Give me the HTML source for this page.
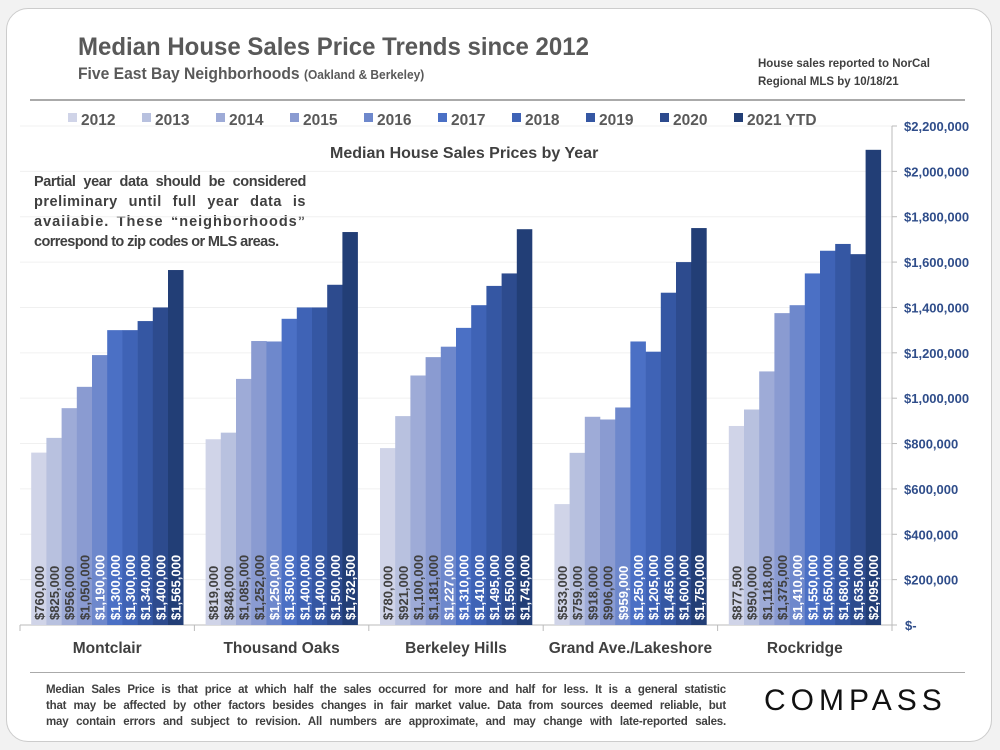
<!DOCTYPE html>
<html><head><meta charset="utf-8"><style>
body{margin:0;background:#f4f4f4;font-family:"Liberation Sans",sans-serif;}
#page{position:relative;width:1000px;height:750px;overflow:hidden;background:#f2f2f2;}
#card{position:absolute;left:6px;top:8px;width:984px;height:732px;background:#fff;border:1px solid #ccc;border-radius:22px;}
.t{position:absolute;white-space:nowrap;color:#595959;font-weight:bold;}
.j{display:block;text-align:justify;text-align-last:justify;white-space:nowrap;}
</style></head><body>
<div id="page">
<div id="card"></div>
<div class="t" style="left:78px;top:33px;font-size:25px;transform:scaleX(0.96);transform-origin:left">Median House Sales Price Trends since 2012</div>
<div class="t" style="left:78px;top:64px;font-size:17px;transform:scaleX(0.92);transform-origin:left">Five East Bay Neighborhoods <span style="font-size:13px">(Oakland &amp; Berkeley)</span></div>
<div class="t" style="left:758px;top:55px;font-size:11.5px;line-height:18px;color:#404040">House sales reported to NorCal<br>Regional MLS by 10/18/21</div>
<div style="position:absolute;left:30px;top:99px;width:935px;height:2px;background:#aaa"></div>
<div class="t" style="left:34px;top:172px;width:272px;font-size:14.5px;line-height:20px;color:#404040">
<span class="j" style="letter-spacing:-0.4px">Partial year data should be considered</span><span class="j" style="letter-spacing:0.5px">preliminary until full year data is</span><span class="j" style="letter-spacing:1px">available. These “neighborhoods”</span><span style="display:block;letter-spacing:-0.6px">correspond to zip codes or MLS areas.</span></div>
<div class="t" style="left:330px;top:145px;font-size:16px;color:#404040">Median House Sales Prices by Year</div>
<div style="position:absolute;left:30px;top:672px;width:935px;height:1px;background:#aaa"></div>
<div class="t" style="left:46px;top:682px;width:680px;font-size:11.5px;line-height:16px;color:#404040;letter-spacing:-0.2px">
<span class="j">Median Sales Price is that price at which half the sales occurred for more and half for less. It is a general statistic</span><span class="j">that may be affected by other factors besides changes in fair market value. Data from sources deemed reliable, but</span><span class="j">may contain errors and subject to revision. All numbers are approximate, and may change with late-reported sales.</span></div>
<div class="t" style="left:764px;top:684px;font-size:30px;color:#111;letter-spacing:5px;font-weight:normal">COMPASS</div>
<svg id="chart" width="1000" height="750" style="position:absolute;left:0;top:0"></svg>
</div>
<script>
const categories=["Montclair","Thousand Oaks","Berkeley Hills","Grand Ave./Lakeshore","Rockridge"];
const years=["2012","2013","2014","2015","2016","2017","2018","2019","2020","2021 YTD"];
const v2012=[760000,819000,780000,533000,877500];
const v2013=[825000,848000,921000,759000,950000];
const v2014=[956000,1085000,1100000,918000,1118000];
const v2015=[1050000,1252000,1181000,906000,1375000];
const v2016=[1190000,1250000,1227000,959000,1410000];
const v2017=[1300000,1350000,1310000,1250000,1550000];
const v2018=[1300000,1400000,1410000,1205000,1650000];
const v2019=[1340000,1400000,1495000,1465000,1680000];
const v2020=[1400000,1500000,1550000,1600000,1635000];
const v2021=[1565000,1732500,1745000,1750000,2095000];
const yTicks=[0,200000,400000,600000,800000,1000000,1200000,1400000,1600000,1800000,2000000,2200000];
const colors=["#d0d4e8","#b8c1df","#9eabd7","#8a9bd1","#6e88cc","#4b70c5","#3f63b6","#3557a3","#2d4b8e","#223e76"];
const series=[v2012,v2013,v2014,v2015,v2016,v2017,v2018,v2019,v2020,v2021];
const svg=document.getElementById('chart');const NS="http://www.w3.org/2000/svg";
const X0=20,X1=892,Y0=625,Y1=126,YMAX=2200000;
const y=v=>Y0-(v/YMAX)*(Y0-Y1);
const gw=(X1-X0)/categories.length;
const bw=15.2;
const x=(c,s)=>X0+c*gw+(gw-bw*series.length)/2+s*bw;
function mk(t,a){const e=document.createElementNS(NS,t);for(const k in a)e.setAttribute(k,a[k]);svg.appendChild(e);return e;}
const fmt=v=>(v===0?"$-":"$"+v.toLocaleString("en-US"));
yTicks.forEach(t=>{
 if(t>0){const l=mk('line',{x1:X0,x2:X1,y1:y(t),y2:y(t),stroke:'#f0f0f0'});
 
 }
 const tk=mk('line',{x1:X1,x2:X1+5,y1:y(t),y2:y(t),stroke:'#bbb'});
 
 
 const tx=mk('text',{x:t===0?905:904,y:y(t)+5,'font-size':13,'font-weight':'bold',fill:'#2f4d8a'});
 tx.textContent=fmt(t);
 
 
});
const ax=mk('line',{x1:X1,x2:X1,y1:Y1,y2:Y0,stroke:'#bbb'});


const xa=mk('line',{x1:X0,x2:X1,y1:Y0,y2:Y0,stroke:'#bbb'});


categories.forEach((c,ci)=>{
 const tk=mk('line',{x1:X0+ci*gw,x2:X0+ci*gw,y1:Y0,y2:Y0+6,stroke:'#bbb'});
 
 
 series.forEach((s,si)=>{
  const r=mk('rect',{x:x(ci,si),y:y(s[ci]),width:bw+0.3,height:Y0-y(s[ci]),fill:colors[si]});
  
  
  const cx=x(ci,si)+bw/2+5;
  const lb=mk('text',{x:0,y:0,transform:`translate(${cx},620) rotate(-90)`,'font-size':13,'font-weight':'bold',fill:si<4?'#404040':'#fff'});
  lb.textContent=fmt(s[ci]);
  
  
 });
 const cl=mk('text',{x:X0+ci*gw+gw/2,y:653,'text-anchor':'middle','font-size':15.5,'font-weight':'bold',fill:'#404040'});
 cl.textContent=c;
 
 
});
const tk=mk('line',{x1:X1,x2:X1,y1:Y0,y2:Y0+6,stroke:'#bbb'});


let lx=68;
years.forEach((yr,i)=>{
 const sq=mk('rect',{x:lx,y:113,width:9,height:9,fill:colors[i]});
 
 
 const t=mk('text',{x:lx+13,y:125,'font-size':15.5,'font-weight':'bold',fill:'#595959'});
 t.textContent=yr;
 
 
 lx+=74;
});
</script>
</body></html>
